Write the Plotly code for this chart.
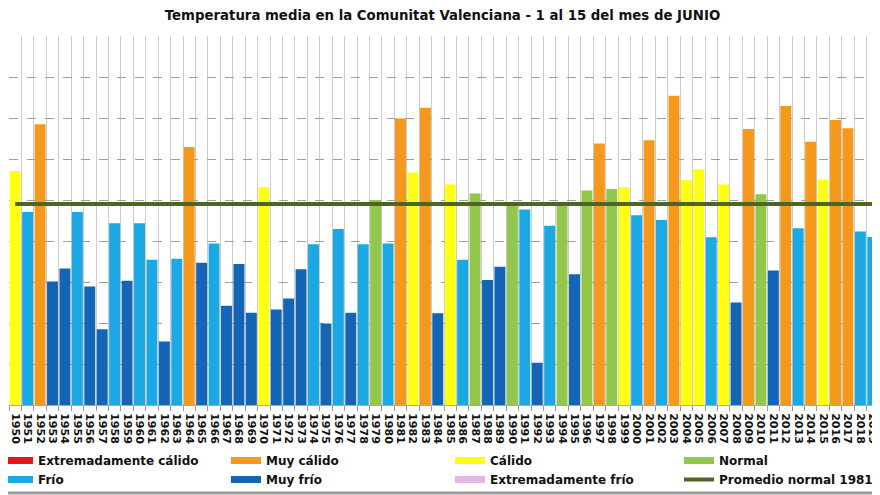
import plotly.graph_objects as go

years = ["1950","1951","1952","1953","1954","1955","1956","1957","1958","1959",
         "1960","1961","1962","1963","1964","1965","1966","1967","1968","1969",
         "1970","1971","1972","1973","1974","1975","1976","1977","1978","1979",
         "1980","1981","1982","1983","1984","1985","1986","1987","1988","1989",
         "1990","1991","1992","1993","1994","1995","1996","1997","1998","1999",
         "2000","2001","2002","2003","2004","2005","2006","2007","2008","2009",
         "2010","2011","2012","2013","2014","2015","2016","2017","2018","2019"]

temps = [21.71, 20.71, 22.85, 19.01, 19.33, 20.71, 18.89, 17.85, 20.43, 19.03,
         20.43, 19.54, 17.55, 19.57, 22.29, 19.47, 19.94, 18.42, 19.44, 18.25,
         21.31, 18.33, 18.60, 19.31, 19.92, 17.99, 20.29, 18.25, 19.92, 21.00,
         19.94, 22.99, 21.67, 23.25, 18.24, 21.38, 19.54, 21.16, 19.05, 19.37,
         20.87, 20.77, 17.03, 20.37, 20.87, 19.19, 21.23, 22.38, 21.27, 21.31,
         20.63, 22.46, 20.51, 23.54, 21.48, 21.75, 20.09, 21.38, 18.50, 22.73,
         21.14, 19.28, 23.29, 20.31, 22.42, 21.50, 22.95, 22.75, 20.23, 20.10]

classes = ["C","F","MC","MF","MF","F","MF","MF","F","MF",
           "F","F","MF","F","MC","MF","F","MF","MF","MF",
           "C","MF","MF","MF","F","MF","F","MF","F","N",
           "F","MC","C","MC","MF","C","F","N","MF","MF",
           "N","F","MF","F","N","MF","N","MC","N","C",
           "F","MC","F","MC","C","C","F","C","MF","MC",
           "N","MF","MC","F","MC","C","MC","MC","F","F"]

promedio_normal = 20.90

class_codes = ["EC", "MC", "C", "N", "F", "MF", "EF"]
class_names = {"EC": "Extremadamente cálido", "MC": "Muy cálido", "C": "Cálido",
               "N": "Normal", "F": "Frío", "MF": "Muy frío", "EF": "Extremadamente frío"}
class_colors = {"EC": "#E8141C", "MC": "#F5991C", "C": "#FFFF14", "N": "#92C74B",
                "F": "#1CA8E3", "MF": "#1465B5", "EF": "#E9B5E6"}
legend_of = {"EC": "legend", "F": "legend", "MC": "legend2", "MF": "legend2",
             "C": "legend3", "EF": "legend3", "N": "legend4"}

fig = go.Figure()

for code in class_codes:
    xs = [y for y, c in zip(years, classes) if c == code]
    vs = [v for v, c in zip(temps, classes) if c == code]
    if xs:
        fig.add_trace(go.Bar(x=xs, y=vs, width=0.88,
                             marker=dict(color=class_colors[code], line=dict(width=0)),
                             showlegend=False, name=class_names[code]))

legend_order = ["EC", "F", "MC", "MF", "C", "EF", "N"]
for code in legend_order:
    fig.add_trace(go.Scatter(x=[None], y=[None], mode="lines", name=class_names[code],
                             line=dict(color=class_colors[code], width=7),
                             legend=legend_of[code], showlegend=True))

fig.add_trace(go.Scatter(x=years, y=[promedio_normal] * len(years), mode="lines",
                         name="Promedio normal 1981-2010",
                         line=dict(color="#4E6624", width=4), legend="legend4"))

# The page body adds an 8px offset, so the figure is sized to fit the window.
W, H = 872, 487
L, R, T, B = 1, 1, 28, 90
PW = W - L - R
font_main = "DejaVu Sans, Verdana, sans-serif"
leg_common = dict(orientation="v", xref="paper", yref="container", yanchor="top", xanchor="left",
                  bgcolor="rgba(0,0,0,0)", borderwidth=0,
                  font=dict(family=font_main, size=12, color="#111", weight="bold"))
legend_top = 1 - 438 / H

fig.update_layout(
    width=W, height=H,
    margin=dict(l=L, r=R, t=T, b=B, autoexpand=False),
    paper_bgcolor="white", plot_bgcolor="white",
    barmode="overlay",
    title=dict(text="Temperatura media en la Comunitat Valenciana - 1 al 15 del mes de JUNIO",
               xref="container", yref="container", x=434.5 / W, xanchor="center",
               y=1 - 7 / H, yanchor="middle",
               font=dict(family=font_main, size=13.3, color="#111", weight="bold")),
    xaxis=dict(type="category", categoryorder="array", categoryarray=years,
               tickmode="array", tickvals=years, ticktext=years,
               tickson="boundaries", showgrid=True, gridcolor="#cccccc", gridwidth=1,
               ticks="outside", ticklen=5, tickcolor="#999", tickangle=90,
               ticklabelstandoff=5,
               tickfont=dict(family=font_main, size=11, color="#111", weight="bold"),
               showline=True, linecolor="#aaa", linewidth=1, zeroline=False,
               range=[-0.5, len(years) - 0.5]),
    yaxis=dict(range=[16, 25], dtick=1, tick0=16, showticklabels=False, showgrid=True,
               gridcolor="#a0a0a0", griddash="dash", gridwidth=1, zeroline=False, showline=False),
    legend=dict(x=(-10 - L) / PW, y=legend_top, **leg_common),
    legend2=dict(x=(218 - L) / PW, y=legend_top, **leg_common),
    legend3=dict(x=(442 - L) / PW, y=legend_top, **leg_common),
    legend4=dict(x=(671 - L) / PW, y=legend_top, **leg_common),
)

# bottom frame line of the image
fig.add_shape(type="line", xref="paper", yref="paper", x0=-0.01, x1=1.01,
              y0=(397 - 485) / 369, y1=(397 - 485) / 369, line=dict(color="#9a9a9a", width=3))

fig.write_html("out.html")
